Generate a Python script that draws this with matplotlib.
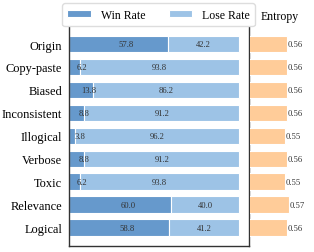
import matplotlib.pyplot as plt
import numpy as np

plt.rcParams['font.family'] = ['Liberation Serif', 'DejaVu Serif']

# data
categories = ['Origin', 'Copy-paste', 'Biased', 'Inconsistent', 'Illogical',
              'Verbose', 'Toxic', 'Relevance', 'Logical']
win_rate = [57.8, 6.2, 13.8, 8.8, 3.8, 8.8, 6.2, 60.0, 58.8]
lose_rate = [42.2, 93.8, 86.2, 91.2, 96.2, 91.2, 93.8, 40.0, 41.2]
entropy = [0.56, 0.56, 0.56, 0.56, 0.55, 0.56, 0.55, 0.57, 0.56]

win_color = '#6699cc'
lose_color = '#9dc3e6'
ent_color = '#ffcc99'

fig = plt.figure(figsize=(3.14, 2.53), dpi=100)

# main win/lose axes
ax = fig.add_axes([69/314, 6/253, 180/314, 221/253])
y = np.arange(len(categories))
h = 0.72

ax.barh(y, win_rate, height=h, color=win_color, edgecolor='white', linewidth=0.8, label='Win Rate')
ax.barh(y, lose_rate, left=win_rate, height=h, color=lose_color, edgecolor='white', linewidth=0.8, label='Lose Rate')

for i in range(len(categories)):
    ax.text(win_rate[i] / 2 + 4.5, y[i], '%.1f' % win_rate[i], ha='center', va='center', fontsize=6.2, color='#333333')
    ax.text(win_rate[i] + lose_rate[i] / 2, y[i], '%.1f' % lose_rate[i], ha='center', va='center', fontsize=6.2, color='#333333')

ax.set_xlim(0, 105.6)
ax.set_ylim(len(categories) - 1 + 0.8, -0.83)
ax.set_yticks(y)
ax.set_yticklabels(categories, fontsize=8.9)
ax.tick_params(axis='y', length=0, pad=5)
ax.set_xticks([])
ax.spines['top'].set_visible(False)
for s in ['left', 'right', 'bottom']:
    ax.spines[s].set_color('#333333')
    ax.spines[s].set_linewidth(1.0)

ax.legend(loc='lower center', bbox_to_anchor=(0.497, 0.995), ncol=2, fontsize=8.5,
          frameon=True, borderaxespad=0, handleheight=0.5, handlelength=2.0,
          columnspacing=2.0, borderpad=0.45,
          edgecolor='#dddddd', framealpha=1.0)

# entropy axes
ax2 = fig.add_axes([250/314, 6/253, 64/314, 221/253])
ax2.barh(y, entropy, height=h, color=ent_color, edgecolor='white', linewidth=0.8)
for i in range(len(categories)):
    ax2.text(entropy[i] + 0.003, y[i], '%.2f' % entropy[i], ha='left', va='center', fontsize=6.2, color='#333333')
ax2.set_xlim(0.36, 0.705)
ax2.set_ylim(len(categories) - 1 + 0.8, -0.83)
ax2.axis('off')
fig.text(280/314, 1 - 17/253, 'Entropy', ha='center', va='center', fontsize=8.5)

fig.savefig('out.png', dpi=100)
